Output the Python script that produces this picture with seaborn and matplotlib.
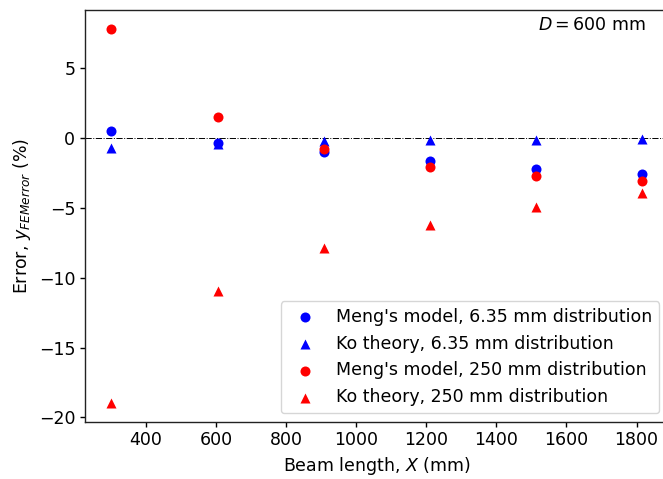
import matplotlib
matplotlib.use("Agg")
import matplotlib.pyplot as plt
import seaborn as sns
import pandas as pd

# Data
beam_length = [302, 605, 907, 1210, 1512, 1814]
meng_635 = [0.48, -0.36, -0.98, -1.68, -2.2, -2.62]
ko_635 = [-0.71, -0.42, -0.26, -0.15, -0.13, -0.1]
meng_250 = [7.81, 1.50, -0.80, -2.06, -2.75, -3.12]
ko_250 = [-18.97, -10.93, -7.90, -6.26, -4.98, -3.95]

series = [
    ("Meng's model, 6.35 mm distribution", meng_635, "blue", "o"),
    ("Ko theory, 6.35 mm distribution", ko_635, "blue", "^"),
    ("Meng's model, 250 mm distribution", meng_250, "red", "o"),
    ("Ko theory, 250 mm distribution", ko_250, "red", "^"),
]

plt.rcParams['font.family'] = ['DejaVu Sans']
plt.rcParams['font.size'] = 12.5
plt.rcParams['axes.linewidth'] = 1.0
plt.rcParams['xtick.major.width'] = 1.0
plt.rcParams['ytick.major.width'] = 1.0
plt.rcParams['axes.edgecolor'] = '#222222'

fig = plt.figure(figsize=(6.63, 4.79), dpi=100)
ax = fig.add_axes([85 / 663, 1 - 421.7 / 479, 583 / 663, 411.7 / 479])

for label, vals, col, mk in series:
    df = pd.DataFrame({"x": beam_length, "y": vals})
    sns.scatterplot(data=df, x="x", y="y", ax=ax, color=col, marker=mk,
                    s=52, linewidth=0, label=label, zorder=3)

ax.axhline(0, color="black", linestyle="-.", linewidth=0.7, zorder=1)

ax.set_xticks([400, 600, 800, 1000, 1200, 1400, 1600, 1800])
ax.set_yticks([5, 0, -5, -10, -15, -20])
ax.set_xlabel("Beam length, $X$ (mm)")
ax.set_ylabel("Error, $y_{FEMerror}$ (%)")
ax.text(0.962, 0.985, "$D = 600$ mm", transform=ax.transAxes,
        ha="right", va="top")
ax.legend(loc="lower right", fontsize=12.5)

fig.savefig("out.png", dpi=100)
